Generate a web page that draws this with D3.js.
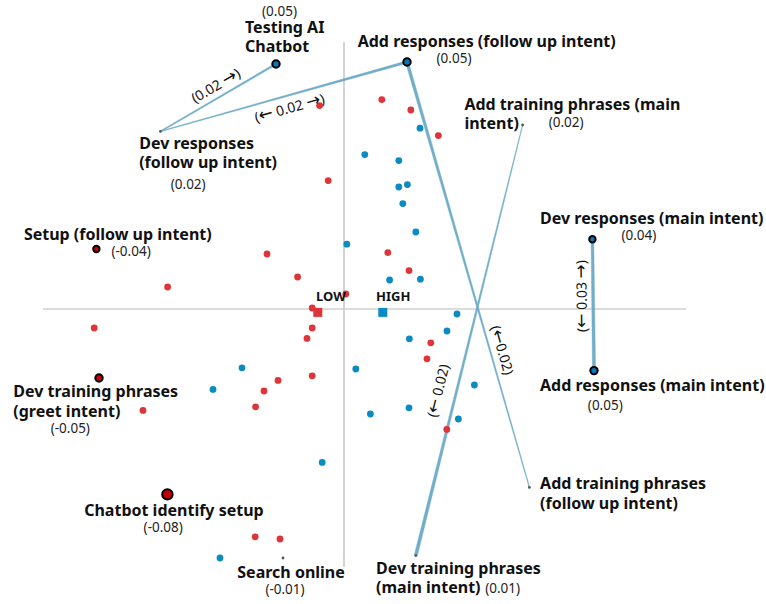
<!DOCTYPE html>
<html>
<head>
<meta charset="utf-8">
<script src="https://cdn.jsdelivr.net/npm/d3@7"></script>
<style>
  html, body { margin: 0; padding: 0; background: #fff; }
  svg { display: block; font-family: "Noto Sans", "DejaVu Sans", sans-serif; }
</style>
</head>
<body>
<svg id="ena_chart"></svg>
<script>
// ENA space (SVD1 x SVD2)

const nodeNames = [
    "Testing AI Chatbot",
    "Add responses (follow up intent)",
    "Dev responses (follow up intent)",
    "Add training phrases (main intent)",
    "Dev responses (main intent)",
    "Add responses (main intent)",
    "Setup (follow up intent)",
    "Dev training phrases (greet intent)",
    "Chatbot identify setup",
    "Search online",
    "Dev training phrases (main intent)",
    "Add training phrases (follow up intent)"
]
const nodeX = [-0.340, 0.315, -0.918, 0.893, 1.242, 1.250, -1.238, -1.225, -0.883, -0.305, 0.359, 0.927]
const nodeY = [1.225, 1.235, 0.888, 0.920, 0.349, -0.308, 0.300, -0.345, -0.927, -1.245, -1.233, -0.892]
const nodeValues = [0.05, 0.05, 0.02, 0.02, 0.04, 0.05, -0.04, -0.05, -0.08, -0.01, 0.01, null]

const edgeFrom = [
    "Dev responses (follow up intent)",
    "Dev responses (follow up intent)",
    "Add responses (follow up intent)",
    "Dev training phrases (main intent)",
    "Add responses (main intent)"
]
const edgeTo = [
    "Testing AI Chatbot",
    "Add responses (follow up intent)",
    "Add training phrases (follow up intent)",
    "Add training phrases (main intent)",
    "Dev responses (main intent)"
]
const edgeWeights = [0.02, 0.02, 0.02, 0.02, 0.03]
const edgeLabels = ["(0.02 \u2192)", "(\u2190 0.02 \u2192)", "(\u21900.02)", "(\u2190 0.02)", "(\u2190 0.03 \u2192)"]

// units (points), group LOW = red, HIGH = blue
const lowX = [0.189, 0.334, 0.472, -0.122, -0.079, 0.219, -0.385, 0.325, -0.232, -0.882, 0.009, -0.159, -1.249,
    -0.159, -0.185, 0.434, 0.415, -0.159, -0.330, -0.400, -0.442, -1.005, 0.514, -0.444, -0.320]
const lowY = [1.047, 0.995, 0.867, 1.017, 0.642, 0.282, 0.275, 0.192, 0.160, 0.110, 0.075, 0.005, -0.095,
    -0.095, -0.147, -0.169, -0.249, -0.334, -0.357, -0.410, -0.489, -0.507, -0.602, -1.139, -1.150]
const highX = [0.380, 0.104, 0.274, 0.274, 0.317, 0.294, 0.359, 0.014, 0.228, 0.382, 0.565, 0.515, 0.327,
    0.652, 0.325, 0.572, -0.510, 0.059, -0.655, 0.132, -0.109, -0.620]
const highY = [0.904, 0.772, 0.742, 0.610, 0.622, 0.527, 0.385, 0.324, 0.145, 0.149, -0.025, -0.110, -0.149,
    -0.380, -0.494, -0.550, -0.294, -0.300, -0.402, -0.525, -0.767, -1.245]

const groupNames = ["LOW", "HIGH"]
const groupMeanX = [-0.131, 0.194]
const groupMeanY = [-0.017, -0.017]

// ---- layout / styling ----
const width = 766, height = 604
const RED = '#df3439', BLUE = '#0a8bc1', EDGE = '#6aaac6'

// label offsets in px from the node centre
const labelLayout = {
    "Testing AI Chatbot": {lines: ["Testing AI", "Chatbot"], dx: -31, dy: [-31.5, -12], vdx: 3.5, vdy: -48.5},
    "Add responses (follow up intent)": {lines: ["Add responses (follow up intent)"], dx: -49.3, dy: [-15], vdx: 47, vdy: 1},
    "Dev responses (follow up intent)": {lines: ["Dev responses", "(follow up intent)"], dx: -21.2, dy: [17.5, 37], vdx: 27.8, vdy: 57.5},
    "Add training phrases (main intent)": {lines: ["Add training phrases (main", "intent)"], dx: -58.2, dy: [-15.5, 4], vdx: 43.5, vdy: 1.5},
    "Dev responses (main intent)": {lines: ["Dev responses (main intent)"], dx: -52.3, dy: [-15], vdx: 46.5, vdy: 1},
    "Add responses (main intent)": {lines: ["Add responses (main intent)"], dx: -54, dy: [20], vdx: 11.3, vdy: 39},
    "Setup (follow up intent)": {lines: ["Setup (follow up intent)"], dx: -72.5, dy: [-9.5], vdx: 34.7, vdy: 6.5},
    "Dev training phrases (greet intent)": {lines: ["Dev training phrases", "(greet intent)"], dx: -85.7, dy: [19, 38.5], vdx: -28.7, vdy: 55},
    "Chatbot identify setup": {lines: ["Chatbot identify setup"], dx: -83.2, dy: [21.5], vdx: -4.2, vdy: 38},
    "Search online": {lines: ["Search online"], dx: -45.7, dy: [19.5], vdx: 2, vdy: 35.5},
    "Dev training phrases (main intent)": {lines: ["Dev training phrases", "(main intent)"], dx: -39.7, dy: [18, 37.5], vdx: 86.8, vdy: 37.5},
    "Add training phrases (follow up intent)": {lines: ["Add training phrases", "(follow up intent)"], dx: 10.7, dy: [2, 22]}
}
// edge widths at each end, label position along edge (t) and perpendicular offset
const edgeStyle = [
    {w: [1.2, 1.9], t: 0.53, off: -11.5},
    {w: [0.7, 2.4], t: 0.51, off: 12.5},
    {w: [3.0, 0.7], t: 0.685, off: -11.7},
    {w: [3.3, 0.6], t: 0.373, off: -18},
    {w: [3.1, 2.7], t: 0.569, off: -11.3}
]

const fmt = d3.formatLocale({decimal: '.', thousands: ',', grouping: [3], currency: ['', ''], minus: '-'}).format('.2f')

const svg = d3.select('#ena_chart')
    .attr('width', width)
    .attr('height', height)

const x = d3.scaleLinear().domain([-1.72, 2.11]).range([0, width])
const y = d3.scaleLinear().domain([1.545, -1.475]).range([0, height])

const nodes = nodeNames.map((n, i) => ({name: n, x: nodeX[i], y: nodeY[i], value: nodeValues[i]}))
const byName = new Map(nodes.map(d => [d.name, d]))

// axes through the origin
svg.append('line')
    .attr('x1', x(-1.505)).attr('x2', x(1.71))
    .attr('y1', y(0)).attr('y2', y(0))
    .attr('stroke', '#b9b9b9').attr('stroke-width', 1.2)
svg.append('line')
    .attr('x1', x(0)).attr('x2', x(0))
    .attr('y1', y(1.335)).attr('y2', y(-1.29))
    .attr('stroke', '#cfcfcf').attr('stroke-width', 1.8)

// tapered edges
const edges = edgeFrom.map((f, i) => ({a: byName.get(f), b: byName.get(edgeTo[i]), weight: edgeWeights[i], label: edgeLabels[i], style: edgeStyle[i]}))

function edgeGeom(e){
    const x0 = x(e.a.x), y0 = y(e.a.y), x1 = x(e.b.x), y1 = y(e.b.y)
    const len = Math.hypot(x1 - x0, y1 - y0)
    const ux = (x1 - x0) / len, uy = (y1 - y0) / len
    return {x0, y0, x1, y1, ux, uy, nx: -uy, ny: ux, len}
}

svg.append('g').selectAll('path')
    .data(edges)
    .join('path')
    .attr('d', e => {
        const g = edgeGeom(e)
        const [w0, w1] = e.style.w
        return d3.line().curve(d3.curveLinearClosed)([
            [g.x0 + g.nx * w0 / 2, g.y0 + g.ny * w0 / 2],
            [g.x1 + g.nx * w1 / 2, g.y1 + g.ny * w1 / 2],
            [g.x1 - g.nx * w1 / 2, g.y1 - g.ny * w1 / 2],
            [g.x0 - g.nx * w0 / 2, g.y0 - g.ny * w0 / 2]
        ])
    })
    .attr('fill', EDGE)
    .attr('stroke', EDGE)
    .attr('stroke-width', 0.4)
    .attr('opacity', 0.95)

// units
svg.append('g').selectAll('circle')
    .data(lowX.map((v, i) => [v, lowY[i]]))
    .join('circle')
    .attr('cx', d => x(d[0])).attr('cy', d => y(d[1]))
    .attr('r', 3.4)
    .attr('fill', RED)

svg.append('g').selectAll('circle')
    .data(highX.map((v, i) => [v, highY[i]]))
    .join('circle')
    .attr('cx', d => x(d[0])).attr('cy', d => y(d[1]))
    .attr('r', 3.4)
    .attr('fill', BLUE)

// group means
const means = groupNames.map((g, i) => ({name: g, x: groupMeanX[i], y: groupMeanY[i], color: i === 0 ? RED : BLUE}))
svg.append('g').selectAll('rect')
    .data(means)
    .join('rect')
    .attr('x', d => x(d.x) - 4.5).attr('y', d => y(d.y) - 4.5)
    .attr('width', 9).attr('height', 9)
    .attr('fill', d => d.color)

svg.append('g').selectAll('text')
    .data(means)
    .join('text')
    .attr('x', (d, i) => x(d.x) + (i === 0 ? -1.7 : -6.7))
    .attr('y', d => y(d.y) - 11.5)
    .attr('font-size', 13)
    .attr('font-weight', 700)
    .attr('fill', '#111')
    .text(d => d.name)

// edge labels, arrows set a bit larger than the digits
svg.append('g').selectAll('text')
    .data(edges)
    .join('text')
    .attr('transform', e => {
        const g = edgeGeom(e)
        const t = e.style.t, off = e.style.off
        const cx = g.x0 + (g.x1 - g.x0) * t + g.nx * off
        const cy = g.y0 + (g.y1 - g.y0) * t + g.ny * off
        const ang = Math.atan2(g.uy, g.ux) * 180 / Math.PI
        return `translate(${cx},${cy}) rotate(${ang})`
    })
    .attr('text-anchor', 'middle')
    .attr('dy', '0.35em')
    .attr('font-size', 14)
    .attr('fill', '#111')
    .each(function(e){
        const t = d3.select(this)
        e.label.split(/([\u2190\u2192])/).filter(s => s.length).forEach(part => {
            const isArrow = /[\u2190\u2192]/.test(part)
            t.append('tspan')
                .style('font-family', isArrow ? 'DejaVu Sans' : null)
                .style('font-size', isArrow ? '17px' : null)
                .text(part)
        })
    })

// code nodes
const rScale = d3.scaleLinear().domain([0.04, 0.08]).range([3.2, 5.2])
const isBig = d => d.value !== null && Math.abs(d.value) > 0.02

svg.append('g').selectAll('circle')
    .data(nodes)
    .join('circle')
    .attr('cx', d => x(d.x)).attr('cy', d => y(d.y))
    .attr('r', d => isBig(d) ? rScale(Math.abs(d.value)) : 1.4)
    .attr('fill', d => !isBig(d) ? '#555' : (d.value > 0 ? '#0b77b8' : '#c4000b'))
    .attr('stroke', d => isBig(d) ? '#000' : 'none')
    .attr('stroke-width', 2)

const labels = svg.append('g')
nodes.forEach(d => {
    const lay = labelLayout[d.name]
    const cx = x(d.x), cy = y(d.y)
    lay.lines.forEach((line, i) => {
        labels.append('text')
            .attr('x', cx + lay.dx)
            .attr('y', cy + lay.dy[i])
            .attr('font-size', 16)
            .attr('font-weight', 700)
            .attr('fill', '#111')
            .text(line)
    })
    if(d.value !== null){
        labels.append('text')
            .attr('x', cx + lay.vdx)
            .attr('y', cy + lay.vdy)
            .attr('text-anchor', 'middle')
            .attr('font-size', 13.5)
            .attr('fill', '#222')
            .text(`(${fmt(d.value)})`)
    }
})
</script>
</body>
</html>
